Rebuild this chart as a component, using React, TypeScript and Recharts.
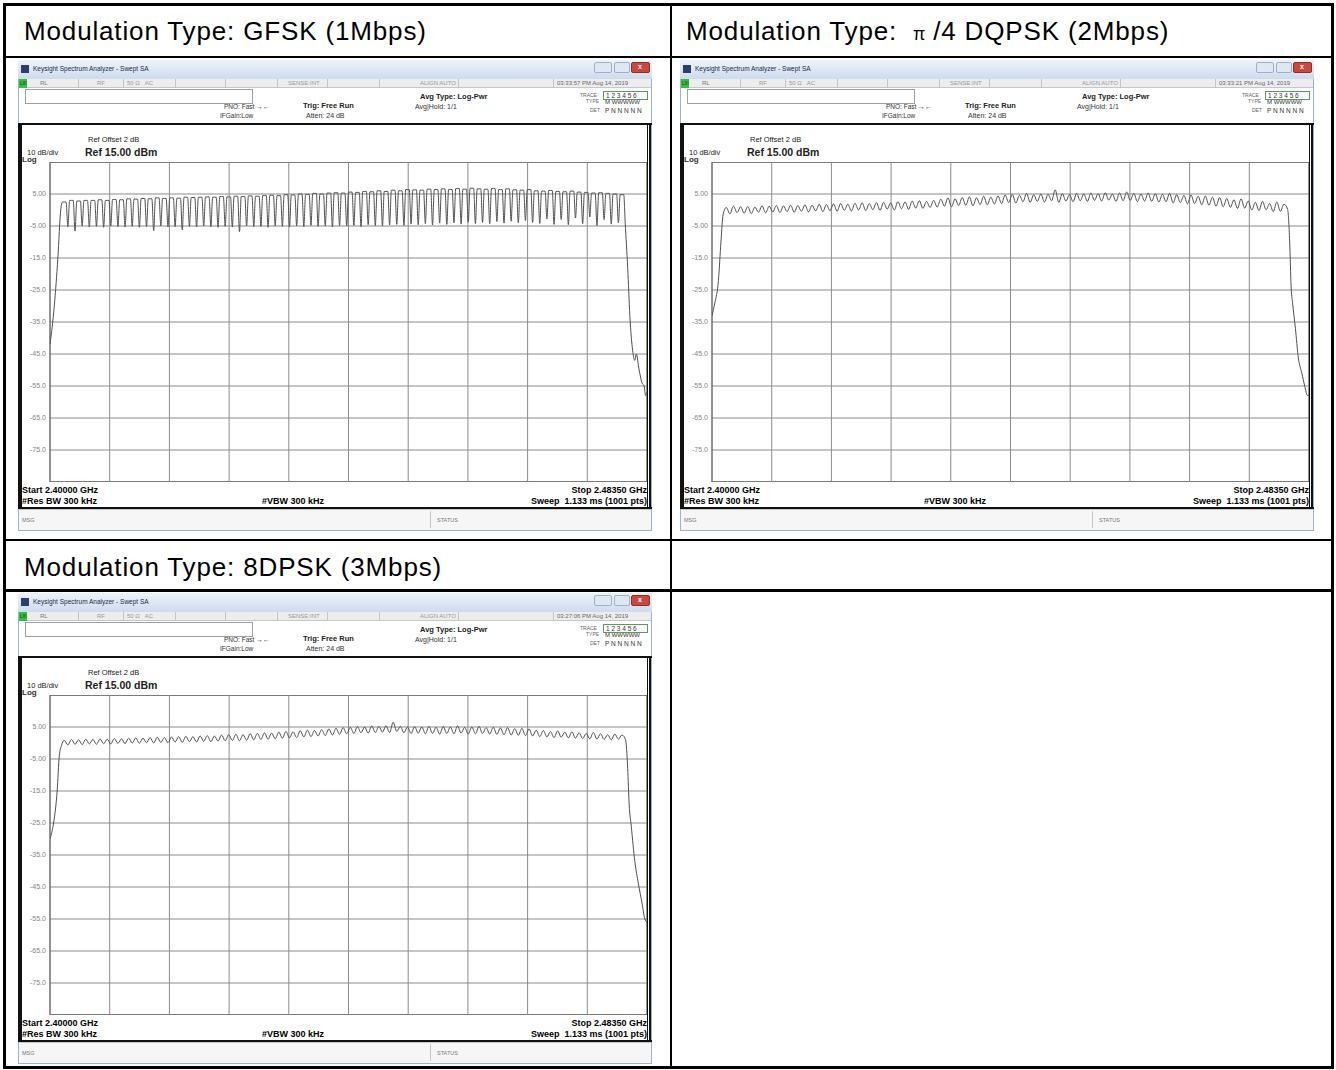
import { CartesianGrid, Line, LineChart, ReferenceArea, ReferenceLine, XAxis, YAxis } from 'recharts'

// analyzer span, MHz: 10 divisions of 8.35 MHz
const FREQ_TICKS = [2400, 2408.35, 2416.7, 2425.05, 2433.4, 2441.75, 2450.1, 2458.45, 2466.8, 2475.15, 2483.5]
const LEVEL_TICKS = [15, 5, -5, -15, -25, -35, -45, -55, -65, -75, -85]
const FIRST_CHANNEL = 2402

// GFSK: hump level per hopping channel (dBm) and the notch between channels
const GFSK_PEAKS = [
  2.5, 3.0, 2.8, 3.0, 3.0, 3.2, 3.0, 3.3, 3.2, 3.5,
  3.4, 3.6, 3.5, 3.8, 3.6, 3.8, 3.7, 4.0, 3.9, 4.0,
  4.1, 4.0, 4.2, 4.1, 4.3, 4.2, 4.4, 4.3, 4.5, 4.6,
  4.5, 4.8, 4.7, 5.0, 4.9, 5.2, 5.0, 5.3, 5.4, 5.3,
  5.6, 5.5, 5.8, 5.7, 6.0, 5.8, 6.2, 6.0, 6.4, 6.3,
  6.2, 6.5, 6.4, 6.6, 6.4, 6.7, 6.5, 6.8, 6.6, 6.5,
  6.7, 6.4, 6.6, 6.3, 6.2, 6.4, 6.0, 5.9, 6.1, 5.8,
  5.7, 5.9, 5.6, 5.5, 5.3, 5.4, 5.2, 5.0, 4.8,
]
const GFSK_DIPS = [
  -5.2, -6.6, -5.0, -5.3, -5.1, -5.4, -5.0, -5.2, -5.3, -5.1,
  -5.4, -5.2, -6.5, -5.0, -5.3, -5.2, -6.2, -5.1, -5.3, -5.0,
  -5.2, -5.4, -5.1, -5.3, -6.8, -5.0, -5.2, -5.1, -5.4, -5.0,
  -5.1, -5.3, -5.0, -5.2, -4.8, -5.1, -5.0, -5.3, -4.9, -5.0,
  -4.8, -5.2, -4.6, -4.9, -5.0, -4.7, -4.5, -4.8, -4.4, -4.6,
  -4.3, -4.7, -4.1, -4.5, -4.0, -4.4, -3.8, -4.2, -3.9, -4.3,
  -3.6, -4.1, -3.5, -4.0, -3.3, -3.9, -4.2, -2.8, -4.5, -3.0,
  -4.6, -2.5, -4.3, -2.2, -4.8, -3.0, -4.4, -4.0,
]
const GFSK_LEFT: [number, number][] = [[2400, -42], [2400.6, -30], [2401.1, -15], [2401.5, 0]]
const GFSK_RIGHT: [number, number][] = [
  [2480.45, -4], [2480.8, -18], [2481.1, -33], [2481.5, -44], [2481.8, -47], [2482.0, -45],
  [2482.4, -50], [2482.8, -54], [2483.1, -55], [2483.3, -58], [2483.5, -57],
]

// pi/4 DQPSK
const DQPSK_PEAKS = [
  0.8, 1.2, 1.0, 1.1, 0.9, 1.3, 1.2, 1.4, 1.3, 1.5,
  1.4, 1.6, 1.5, 1.8, 1.7, 1.9, 2.0, 1.8, 2.1, 2.2,
  2.0, 2.3, 2.4, 2.2, 2.6, 2.5, 2.8, 2.9, 2.7, 3.0,
  3.4, 3.8, 3.5, 3.9, 4.1, 3.8, 4.3, 4.0, 4.4, 4.7,
  4.9, 4.6, 5.2, 4.8, 5.0, 4.9, 6.3, 5.1, 4.8, 5.2,
  5.0, 5.3, 5.1, 5.4, 5.0, 5.3, 5.6, 5.2, 5.0, 5.3,
  5.1, 4.9, 5.2, 4.8, 4.6, 4.7, 4.3, 4.4, 4.0, 3.9,
  3.6, 3.2, 3.5, 2.8, 2.4, 2.7, 2.0, 2.5, 1.8,
]
const DQPSK_DIPS = [
  -1.2, -0.8, -1.0, -1.1, -0.7, -0.9, -0.6, -0.8, -0.5, -0.7,
  -0.4, -0.6, -0.3, -0.5, -0.2, -0.4, -0.1, -0.3, 0.0, -0.2,
  0.1, -0.1, 0.3, 0.0, 0.4, 0.2, 0.6, 0.5, 0.8, 0.9,
  1.2, 1.0, 1.4, 1.5, 1.3, 1.7, 1.6, 1.9, 2.0, 2.3,
  2.2, 2.6, 2.4, 2.7, 2.5, 2.9, 2.4, 2.8, 2.6, 2.9,
  2.7, 3.0, 2.8, 3.1, 2.7, 2.9, 3.0, 2.6, 2.8, 2.7,
  2.5, 2.6, 2.2, 2.3, 1.9, 2.0, 1.6, 1.5, 1.2, 1.0,
  0.8, 0.5, 0.6, 0.0, -0.2, 0.1, -0.5, -0.4,
]
const DQPSK_LEFT: [number, number][] = [[2400, -33], [2400.4, -29], [2400.9, -22], [2401.25, -10], [2401.55, -1.5]]
const DQPSK_RIGHT: [number, number][] = [
  [2480.5, 0.3], [2480.8, -10], [2481.0, -24], [2481.2, -29], [2481.6, -37], [2482.0, -46],
  [2482.5, -51], [2482.9, -55], [2483.3, -58], [2483.5, -58],
]

// 8DPSK
const DPSK8_PEAKS = [
  0.8, 1.1, 1.0, 1.2, 1.1, 1.3, 1.2, 1.4, 1.3, 1.5,
  1.6, 1.5, 1.7, 1.8, 1.7, 1.9, 2.0, 2.1, 2.0, 2.2,
  2.3, 2.2, 2.5, 2.6, 2.7, 2.6, 2.9, 3.0, 3.2, 3.1,
  3.4, 3.6, 3.5, 3.8, 4.0, 3.9, 4.2, 4.4, 4.6, 4.8,
  4.9, 5.1, 5.0, 5.3, 5.2, 5.4, 6.5, 5.2, 5.0, 5.1,
  5.0, 5.2, 4.9, 5.1, 5.0, 5.3, 4.9, 5.0, 5.2, 4.8,
  4.9, 4.7, 4.8, 4.5, 4.6, 4.4, 4.0, 3.9, 3.6, 3.8,
  3.4, 3.5, 3.2, 3.0, 3.3, 2.9, 2.6, 2.8, 2.5,
]
const DPSK8_DIPS = [
  -0.6, -0.4, -0.5, -0.3, -0.4, -0.2, -0.3, -0.1, -0.2, 0.0,
  -0.1, 0.1, 0.0, 0.2, 0.1, 0.3, 0.2, 0.4, 0.3, 0.5,
  0.4, 0.6, 0.7, 0.8, 0.7, 0.9, 1.0, 1.1, 1.2, 1.3,
  1.5, 1.6, 1.7, 1.9, 2.0, 2.2, 2.3, 2.5, 2.7, 2.9,
  3.0, 3.2, 3.1, 3.3, 3.4, 3.3, 3.6, 3.2, 3.0, 3.1,
  2.9, 3.0, 2.8, 3.0, 2.9, 3.1, 2.8, 2.9, 3.0, 2.8,
  2.7, 2.6, 2.5, 2.4, 2.3, 2.2, 2.0, 1.9, 1.7, 1.8,
  1.6, 1.5, 1.4, 1.3, 1.2, 1.1, 1.0, 1.2,
]
const DPSK8_LEFT: [number, number][] = [[2400, -30], [2400.5, -25], [2401.0, -15], [2401.3, -4], [2401.6, -0.8]]
const DPSK8_RIGHT: [number, number][] = [
  [2480.5, 1.0], [2480.8, -8], [2481.0, -19], [2481.3, -26], [2481.8, -37], [2482.3, -44],
  [2482.8, -50], [2483.2, -55], [2483.5, -56],
]

type Pt = { f: number; v: number }

function buildTrace(peaks: number[], dips: number[], left: [number, number][], right: [number, number][], shoulder = 0) {
  const pts: Pt[] = left.map(([f, v]) => ({ f, v }))
  peaks.forEach((p, i) => {
    const c = FIRST_CHANNEL + i
    if (shoulder) pts.push({ f: c - shoulder, v: p })
    pts.push({ f: c, v: p })
    if (shoulder) pts.push({ f: c + shoulder, v: p })
    if (i < dips.length) pts.push({ f: c + 0.5, v: dips[i] })
  })
  right.forEach(([f, v]) => pts.push({ f, v }))
  return pts
}

const fmtLevel = (v: number) => {
  if (v === 15 || v === -85) return ''
  return Math.abs(v) < 10 ? v.toFixed(2) : v.toFixed(1)
}

const SA_FONT = '"Liberation Sans", Arial, sans-serif'

function Trace({ data }: { data: Pt[] }) {
  return (
    <LineChart width={629} height={320} data={data} margin={{ top: 0, right: 0, bottom: 0, left: 0 }}>
      <CartesianGrid stroke="#8c8c8c" strokeWidth={1} vertical={false} />
      <XAxis
        dataKey="f"
        type="number"
        domain={[2400, 2483.5]}
        ticks={FREQ_TICKS}
        allowDataOverflow
        tick={false}
        tickLine={false}
        axisLine={false}
        height={0}
      />
      <YAxis
        type="number"
        domain={[-85, 15]}
        ticks={LEVEL_TICKS}
        interval={0}
        width={32}
        tickLine={false}
        axisLine={false}
        tickSize={0}
        tickMargin={4}
        tick={{ fontSize: 7, fill: '#858585', fontFamily: SA_FONT }}
        tickFormatter={fmtLevel}
      />
      {FREQ_TICKS.map((f) => (
        <ReferenceLine key={f} x={f} stroke="#8c8c8c" strokeWidth={1} />
      ))}
      <ReferenceArea x1={2400} x2={2483.5} y1={-85} y2={15} stroke="#333" strokeWidth={1} fill="none" fillOpacity={0} />
      <Line dataKey="v" type="monotone" stroke="#505050" strokeWidth={1} dot={false} isAnimationActive={false} />
    </LineChart>
  )
}

function Txt({ x, y, size = 7, bold = false, color = '#222', right, children }: any) {
  return (
    <div
      style={{
        position: 'absolute',
        left: right === undefined ? x : undefined,
        right,
        top: y - size * 0.55,
        fontSize: size,
        fontWeight: bold ? 700 : 400,
        color,
        lineHeight: 1.1,
        whiteSpace: 'pre',
        fontFamily: SA_FONT,
      }}
    >
      {children}
    </div>
  )
}

function Box(s: React.CSSProperties) {
  return <div style={{ position: 'absolute', boxSizing: 'border-box', ...s }} />
}

function Screenshot({ left, top, stamp, data }: { left: number; top: number; stamp: string; data: Pt[] }) {
  return (
    <div style={{ position: 'absolute', left, top, width: 634, height: 471, background: '#fff', overflow: 'hidden' }}>
      {/* window frame + title bar */}
      <Box left={0} top={0} width={634} height={471} border="1px solid #9fb3cf" />
      <Box left={0} top={0} width={634} height={19} background="linear-gradient(#eef3fa, #cddbee)" />
      <Box left={3} top={5} width={8} height={8} background="#2b3f6b" />
      <Txt x={15} y={9} size={6.5} color="#1d2a44">Keysight Spectrum Analyzer - Swept SA</Txt>
      <Box left={576} top={2} width={18} height={11} background="#dfe7f3" border="1px solid #9fb0c9" borderRadius={2} />
      <Box left={596} top={2} width={16} height={11} background="#dfe7f3" border="1px solid #9fb0c9" borderRadius={2} />
      <Box left={613} top={2} width={19} height={11} background="#c8493f" border="1px solid #8e2c25" borderRadius={2} />
      <Txt x={620} y={7} size={7} bold color="#fff">x</Txt>

      {/* status row */}
      <Box left={1} top={19} width={632} height={9} background="#ededed" borderBottom="1px solid #c7c7c7" />
      <Box left={1} top={19} width={8} height={9} background="#33c23a" />
      <Txt x={2} y={24} size={4.5} color="#0a3a0a">LXI</Txt>
      <Txt x={22} y={23.5} size={6} color="#777">RL</Txt>
      <Txt x={79} y={23.5} size={6} color="#999">RF</Txt>
      <Txt x={109} y={23.5} size={6} color="#999">50 Ω   AC</Txt>
      <Txt x={270} y={23.5} size={6} color="#999">SENSE:INT</Txt>
      <Txt x={402} y={23.5} size={6} color="#999">ALIGN AUTO</Txt>
      <Txt x={539} y={23.5} size={6} color="#666">{stamp}</Txt>
      {[60, 105, 157, 207, 259, 309, 361, 440, 535].map((sx) => (
        <Box key={sx} left={sx} top={19} width={1} height={9} background="#c4c4c4" />
      ))}

      {/* setup header */}
      <Box left={7} top={29} width={228} height={15} border="1px solid #a0a0a0" />
      <Txt x={206} y={47} size={6.5} color="#333">PNO: Fast</Txt>
      <Txt x={202} y={56} size={6.5} color="#333">IFGain:Low</Txt>
      <Txt x={238} y={46.5} size={7} color="#333">→←</Txt>
      <Txt x={285} y={46.5} size={7.5} bold>Trig: Free Run</Txt>
      <Txt x={288} y={56} size={7} color="#333">Atten: 24 dB</Txt>
      <Txt x={402} y={37} size={7.5} bold>Avg Type: Log-Pwr</Txt>
      <Txt x={397} y={47} size={7} color="#333">Avg|Hold: 1/1</Txt>
      <Txt x={562} y={35.5} size={5} color="#666">TRACE</Txt>
      <Txt x={568} y={42} size={5} color="#666">TYPE</Txt>
      <Txt x={572} y={51} size={5} color="#666">DET</Txt>
      <Box left={585} top={31} width={45} height={9} border="1px solid #5a9c5a" />
      <Txt x={588} y={35.5} size={6.5} color="#333">1 2 3 4 5 6</Txt>
      <Txt x={587} y={42.5} size={6} color="#333">M WWWWW</Txt>
      <Txt x={587} y={51} size={6.5} color="#333">P N N N N N</Txt>

      {/* display frame */}
      <Box left={0} top={63} width={634} height={2} background="#111" />
      <Box left={0} top={63} width={4} height={386} background="#111" />
      <Box left={629} top={63} width={4} height={386} borderLeft="1px solid #111" borderRight="2px solid #111" />
      <Box left={0} top={447} width={634} height={2} background="#111" />
      <Txt x={70} y={80} size={7.5} color="#222">Ref Offset 2 dB</Txt>
      <Txt x={9} y={93.5} size={7.5} color="#222">10 dB/div</Txt>
      <Txt x={67} y={92.5} size={10.5} bold>Ref 15.00 dBm</Txt>
      <Txt x={4} y={100.5} size={8} bold color="#333">Log</Txt>

      <div style={{ position: 'absolute', left: 0, top: 102 }}>
        <Trace data={data} />
      </div>

      {/* footer annotations */}
      <Txt x={4} y={431} size={9} bold color="#000">Start 2.40000 GHz</Txt>
      <Txt x={4} y={442} size={9} bold color="#000">#Res BW 300 kHz</Txt>
      <Txt x={244} y={442} size={9} bold color="#000">#VBW 300 kHz</Txt>
      <Txt right={5} y={431} size={9} bold color="#000">Stop 2.48350 GHz</Txt>
      <Txt right={5} y={442} size={9} bold color="#000">Sweep  1.133 ms (1001 pts)</Txt>

      {/* message bar */}
      <Box left={1} top={449} width={632} height={21} background="#f6f6f6" borderTop="1px solid #c8c8c8" />
      <Box left={412} top={451} width={1} height={17} background="#c8c8c8" />
      <Txt x={4} y={460} size={5.5} color="#777">MSG</Txt>
      <Txt x={419} y={460} size={5.5} color="#777">STATUS</Txt>
    </div>
  )
}

const HEAD_FONT = '"Liberation Sans", Arial, sans-serif'

function Heading({ x, y, children }: { x: number; y: number; children: React.ReactNode }) {
  return (
    <div
      style={{
        position: 'absolute',
        left: x,
        top: y,
        fontSize: 26,
        letterSpacing: 0.85,
        lineHeight: 1,
        color: '#000',
        whiteSpace: 'pre',
        fontFamily: HEAD_FONT,
      }}
    >
      {children}
    </div>
  )
}

export default function App() {
  const gfsk = buildTrace(GFSK_PEAKS, GFSK_DIPS, GFSK_LEFT, GFSK_RIGHT, 0.25)
  const dqpsk = buildTrace(DQPSK_PEAKS, DQPSK_DIPS, DQPSK_LEFT, DQPSK_RIGHT)
  const dpsk8 = buildTrace(DPSK8_PEAKS, DPSK8_DIPS, DPSK8_LEFT, DPSK8_RIGHT)

  return (
    <div style={{ position: 'absolute', left: 0, top: 0, width: 1336, height: 1070, background: '#fff' }}>
      {/* table rules */}
      <Box left={3} top={3} width={1331} height={1066} border="3px solid #000" />
      <Box left={670} top={3} width={2} height={1066} background="#000" />
      <Box left={3} top={56} width={1331} height={2} background="#000" />
      <Box left={3} top={539} width={1331} height={2} background="#000" />
      <Box left={3} top={589} width={1331} height={3} background="#000" />

      <Heading x={24} y={18}>Modulation Type: GFSK (1Mbps)</Heading>
      <Heading x={686} y={18}>
        Modulation Type:{'  '}
        <span style={{ fontFamily: '"Noto Sans CJK SC", serif', fontSize: 18, letterSpacing: 0 }}>π</span> /4 DQPSK (2Mbps)
      </Heading>
      <Heading x={24} y={554}>Modulation Type: 8DPSK (3Mbps)</Heading>

      <Screenshot left={18} top={60} stamp="03:33:57 PM Aug 14, 2019" data={gfsk} />
      <Screenshot left={680} top={60} stamp="03:33:21 PM Aug 14, 2019" data={dqpsk} />
      <Screenshot left={18} top={593} stamp="03:27:06 PM Aug 14, 2019" data={dpsk8} />
    </div>
  )
}
